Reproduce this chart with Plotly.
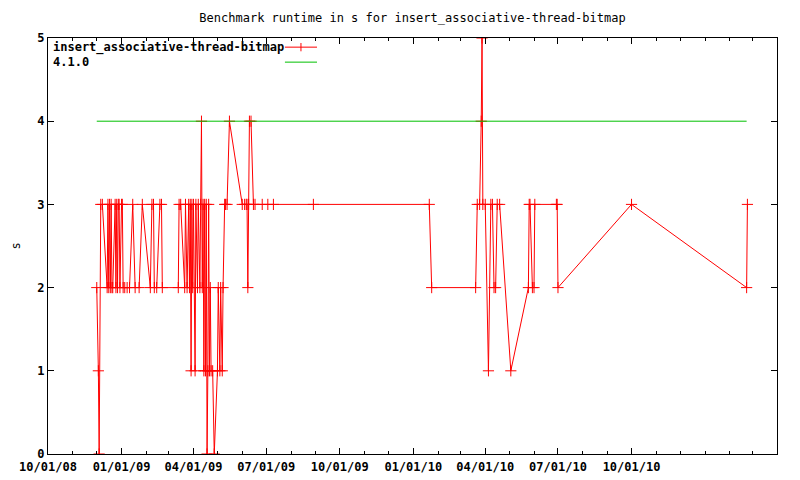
import plotly.graph_objects as go
import pandas as pd

# ---------------- data ----------------
runtime_dates = [
    "2008-12-01", "2008-12-03", "2008-12-04", "2008-12-06", "2008-12-08",
    "2008-12-14", "2008-12-15", "2008-12-16", "2008-12-17", "2008-12-18", "2008-12-19", "2008-12-20", "2008-12-21",
    "2008-12-24", "2008-12-25", "2008-12-26", "2008-12-27", "2008-12-28", "2008-12-29", "2008-12-30",
    "2009-01-01", "2009-01-02", "2009-01-03", "2009-01-05", "2009-01-08", "2009-01-11", "2009-01-15", "2009-01-18",
    "2009-01-23", "2009-01-27",
    "2009-02-06", "2009-02-08", "2009-02-10", "2009-02-11", "2009-02-14", "2009-02-18", "2009-02-20", "2009-02-21",
    "2009-03-13", "2009-03-14", "2009-03-16", "2009-03-21", "2009-03-22", "2009-03-24", "2009-03-26", "2009-03-27",
    "2009-03-28", "2009-03-29", "2009-03-30", "2009-03-31",
    "2009-04-01", "2009-04-03", "2009-04-04", "2009-04-06", "2009-04-07", "2009-04-09", "2009-04-10", "2009-04-11",
    "2009-04-12", "2009-04-13", "2009-04-14", "2009-04-15", "2009-04-16", "2009-04-17", "2009-04-18", "2009-04-19",
    "2009-04-20", "2009-04-21", "2009-04-22", "2009-04-23", "2009-04-25", "2009-04-27",
    "2009-05-01", "2009-05-02", "2009-05-04", "2009-05-05", "2009-05-07", "2009-05-08", "2009-05-10", "2009-05-11",
    "2009-05-13", "2009-05-16",
    "2009-06-01", "2009-06-04", "2009-06-06", "2009-06-07", "2009-06-08", "2009-06-09", "2009-06-10", "2009-06-12",
    "2009-06-15", "2009-06-17", "2009-06-26", "2009-07-03", "2009-07-10", "2009-08-29",
    "2010-01-21", "2010-01-24", "2010-03-20", "2010-03-22", "2010-03-25", "2010-03-27", "2010-03-28", "2010-03-29",
    "2010-04-01", "2010-04-05", "2010-04-08", "2010-04-10", "2010-04-12", "2010-04-14", "2010-04-16", "2010-04-19",
    "2010-05-03", "2010-05-25", "2010-05-26", "2010-05-27", "2010-05-30", "2010-06-01", "2010-06-02", "2010-06-29",
    "2010-06-30", "2010-07-01", "2010-10-01", "2011-02-22", "2011-02-23",
]
runtime_values = [
    2, 1, 0, 3, 3,
    2, 3, 2, 3, 2, 3, 2, 2,
    3, 2, 3, 2, 3, 3, 2,
    3, 3, 2, 2, 2, 2, 3, 2,
    2, 3,
    2, 3, 3, 2, 2, 3, 3, 2,
    2, 3, 3, 2, 3, 2, 3, 2,
    3, 1, 3, 2,
    3, 1, 3, 2, 3, 2, 3, 4,
    2, 3, 1, 3, 1, 3, 0, 1,
    3, 1, 2, 1, 1, 0,
    1, 2, 1, 2, 1, 2, 3, 3,
    3, 4,
    3, 3, 3, 3, 2, 3, 4, 4,
    3, 3, 3, 3, 3, 3,
    3, 2, 2, 3, 3, 4, 5, 3,
    3, 1, 3, 3, 2, 2, 3, 3,
    1, 2, 3, 3, 2, 2, 3, 3,
    3, 2, 3, 2, 3,
]
baseline_dates = ["2008-12-01", "2011-02-22"]
baseline_values = [4, 4]

series_name = "insert_associative-thread-bitmap"
baseline_name = "4.1.0"
title_text = "Benchmark runtime in s for insert_associative-thread-bitmap"

x_start, x_end = "2008-10-01", "2011-04-01"
major_ticks = list(pd.date_range(x_start, x_end, freq="3MS"))
major_labels = [d.strftime("%m/%d/%y") if d <= pd.Timestamp("2010-10-01") else "" for d in major_ticks]
minor_ticks = list(pd.date_range(x_start, x_end, freq="MS"))

RED = "#ff0000"
GREEN = "#00c000"
FONT = "DejaVu Sans Mono"

fig = go.Figure()
fig.add_trace(go.Scatter(
    x=runtime_dates, y=runtime_values, mode="lines+markers", name=series_name,
    line=dict(color=RED, width=1),
    marker=dict(symbol="cross-thin", size=8, line=dict(color=RED, width=1), color=RED),
    showlegend=False,
))
fig.add_trace(go.Scatter(
    x=baseline_dates, y=baseline_values, mode="lines", name=baseline_name,
    line=dict(color=GREEN, width=1), showlegend=False,
))

axis_common = dict(showline=True, linecolor="black", linewidth=1, mirror="allticks",
                   ticks="inside", tickcolor="black", showgrid=False, zeroline=False,
                   automargin=False,
                   tickfont=dict(family=FONT, size=12, color="black", weight="bold"))

fig.update_xaxes(type="date", range=[x_start, x_end], tickmode="array",
                 tickvals=major_ticks, ticktext=major_labels, ticklen=6,
                 ticklabelstandoff=2,
                 minor=dict(tickmode="array", tickvals=minor_ticks, ticks="inside",
                            ticklen=3, tickcolor="black", showgrid=False),
                 **axis_common)
fig.update_yaxes(range=[0, 5], tickmode="linear", tick0=0, dtick=1, ticklen=6,
                 title=dict(text="s", font=dict(family=FONT, size=12, color="black"), standoff=14),
                 **axis_common)

# legend drawn gnuplot-style (text left, sample right)
leg_font = dict(family=FONT, size=12, color="black", weight="bold")
ann = [
    dict(text=series_name, x=0.004, y=0.978, xref="paper", yref="paper", xanchor="left",
         yanchor="middle", showarrow=False, font=leg_font),
    dict(text=baseline_name, x=0.004, y=0.942, xref="paper", yref="paper", xanchor="left",
         yanchor="middle", showarrow=False, font=leg_font),
]
shapes = [
    dict(type="line", xref="paper", yref="paper", x0=0.325, x1=0.369, y0=0.978, y1=0.978,
         line=dict(color=RED, width=1)),
    dict(type="line", xref="paper", yref="paper", x0=0.347, x1=0.347, y0=0.968, y1=0.988,
         line=dict(color=RED, width=1)),
    dict(type="line", xref="paper", yref="paper", x0=0.325, x1=0.369, y0=0.942, y1=0.942,
         line=dict(color=GREEN, width=1)),
]

fig.update_layout(
    width=800, height=480,
    margin=dict(l=40, r=31, t=30, b=34, autoexpand=False),
    paper_bgcolor="white", plot_bgcolor="white",
    title=dict(text=title_text, x=0.5, xref="paper", xanchor="center", y=1 - 10 / 480,
               yanchor="middle", font=dict(family=FONT, size=12, color="black")),
    annotations=ann, shapes=shapes,
)

fig.write_html("out.html")
